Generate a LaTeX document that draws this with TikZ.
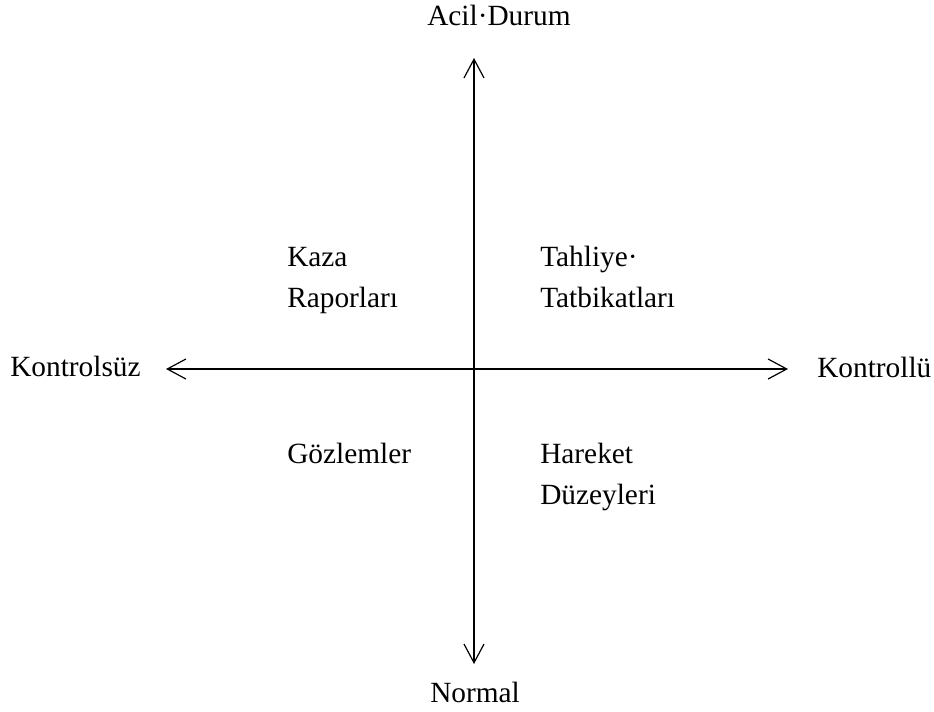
\documentclass[tikz,border=0pt]{standalone}
\usepackage{fontspec}
\setmainfont{Liberation Serif}
\usetikzlibrary{positioning, arrows.meta}

\begin{document}
\begin{tikzpicture}[
    x=0.75pt, y=-0.75pt,
    every node/.style={font=\fontsize{22}{30.5}\selectfont, inner sep=0pt},
    axislabel/.style={anchor=base west},
    quadrant/.style={align=left, anchor=north west},
    axis/.style={{Straight Barb[length=14pt,width=15pt]}-{Straight Barb[length=14pt,width=15pt]}, line width=0.9pt}
]
    \useasboundingbox (0,0) rectangle (934,711);

    % AXIS ENDS
    \coordinate (up) at (474,58);
    \coordinate (down) at (474,664);
    \coordinate (west) at (166,369);
    \coordinate (east) at (788,369);

    % NODES
    \node[axislabel] (emergency) at (427,25) {Acil·Durum};
    \node[axislabel] (normal) at (430,702) {Normal};
    \node[axislabel] (uncontrolled) at (10,376) {Kontrolsüz};
    \node[axislabel] (controlled) at (817,377) {Kontrollü};

    \node[quadrant] (accident) at (287,247) {Kaza\\Raporları};
    \node[quadrant] (evacuation) at (540,246) {Tahliye·\\Tatbikatları};
    \node[quadrant] (observation) at (287,443) {Gözlemler};
    \node[quadrant] (movement) at (540,443) {Hareket\\Düzeyleri};

    % EDGES
    \draw[axis] (up) -- (down);
    \draw[axis] (west) -- (east);

\end{tikzpicture}
\end{document}
